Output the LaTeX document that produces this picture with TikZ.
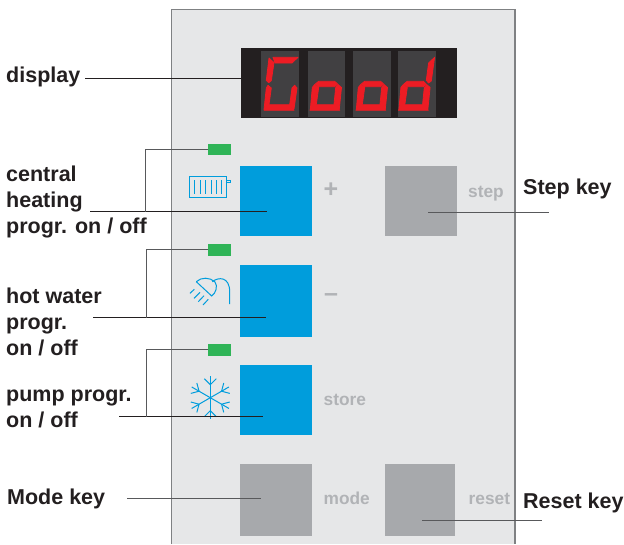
\documentclass[tikz,border=0pt]{standalone}
\usepackage{xcolor}
\usepackage{fontspec}
\setmainfont{Liberation Sans}
\usepackage{tikz}
\usetikzlibrary{positioning,calc}
\definecolor{ink}{HTML}{231F20}
\definecolor{wire}{HTML}{58595B}
\definecolor{panelbg}{HTML}{E6E7E8}
\definecolor{panelln}{HTML}{7F8183}
\definecolor{keyb}{HTML}{009DDC}
\definecolor{keyg}{HTML}{A7A9AC}
\definecolor{capt}{HTML}{B1B3B6}
\definecolor{ledg}{HTML}{2FB457}
\definecolor{segr}{HTML}{ED1C24}
\definecolor{cellbg}{HTML}{414042}
\newcommand{\sega}{(12,6.3) -- (37,6.3) -- (31,12) -- (14,12) -- cycle}
\newcommand{\segf}{(8,7) -- (13,11.7) -- (10.3,29.7) -- (7.7,31.7) -- (5.3,29.3) -- cycle}
\newcommand{\sege}{(7,34.3) -- (10.3,37) -- (8,53.7) -- (3,58.7) -- (5.3,37) -- cycle}
\newcommand{\segc}{(33.7,34.3) -- (36,37) -- (33,58) -- (28.7,53.7) -- (31,37) -- cycle}
\newcommand{\segd}{(3.2,59.3) -- (8,53.7) -- (28.7,53.7) -- (33,59.3) -- cycle}
\newcommand{\segg}{(8.6,33) -- (12,30.3) -- (28,30.3) -- (30.8,33) -- (28,35.7) -- (12,35.7) -- cycle}
\newcommand{\segb}{(39.3,6.3) -- (36,30) -- (33.3,32) -- (31,29.3) -- (33.3,12) -- cycle}
\newcommand{\sego}{(8,33.5) -- (12,36.5) -- (9.6,53.3) -- (3.6,58.7) -- (5.6,36.5) -- cycle}
\newcommand{\segp}{(31.3,33.5) -- (34.8,36.5) -- (32.6,58) -- (27.3,53.3) -- (29,36.5) -- cycle}
\tikzset{
  kbox/.style={rectangle,inner sep=0pt,anchor=north west,minimum width=72pt,minimum height=70pt},
  keyblue/.style={kbox,fill=keyb},
  keygrey/.style={kbox,fill=keyg},
  led/.style={rectangle,inner sep=0pt,anchor=north west,fill=ledg,minimum width=22.5pt,minimum height=11.5pt},
  cell/.style={rectangle,inner sep=0pt,anchor=north west,fill=cellbg,minimum width=38pt,minimum height=66pt},
  seg/.style={fill=segr,draw=segr,line width=0.8pt,line join=round},
  lbl/.style={anchor=west,align=left,inner sep=0pt,text=ink,font=\bfseries\fontsize{21.5}{25.8}\selectfont},
  capn/.style={anchor=west,inner sep=0pt,text=capt,font=\bfseries\fontsize{17.3}{20}\selectfont},
  signn/.style={inner sep=0pt,text=capt,font=\bfseries\fontsize{25}{25}\selectfont},
  ln/.style={draw=ink,line width=0.9pt},
  lng/.style={draw=wire,line width=1pt},
  icn/.style={draw=keyb,line width=1pt},
}
\begin{document}
\begin{tikzpicture}[x=1pt,y=-1pt]
  \useasboundingbox (0,0) rectangle (624,544);
  \fill[white] (0,0) rectangle (624,544);
  % panel
  \fill[panelbg] (171.5,9.5) rectangle (515,544);
  \draw[panelln,line width=1.2pt] (171.5,544) -- (171.5,9.5) -- (515,9.5) -- (515,544);
  % display
  \node[rectangle,inner sep=0pt,anchor=north west,fill=ink,minimum width=216pt,minimum height=70pt] (disp) at (241,48) {};
  \node[cell] (cell1) at (261,51) {};
  \node[cell,minimum width=37pt] (cell2) at (308,51) {};
  \node[cell] (cell3) at (353,51) {};
  \node[cell] (cell4) at (398,51) {};
  \begin{scope}[shift={(261,51)}]
    \foreach \s in {\sega,\segf,\sege,\segc,\segd} \path[seg] \s;
  \end{scope}
  \foreach \x in {306.7,352.7} {
    \begin{scope}[shift={(\x,51)}]
      \foreach \s in {\segg,\sego,\segp,\segd} \path[seg] \s;
    \end{scope}
  }
  \begin{scope}[shift={(395.3,51)}]
    \foreach \s in {\segb,\segg,\sego,\segp,\segd} \path[seg] \s;
  \end{scope}
  % keys
  \node[keyblue] (keyheat) at (240,166) {};
  \node[keyblue,minimum height=72pt] (keywater) at (240,265) {};
  \node[keyblue] (keypump) at (240,365) {};
  \node[keygrey,minimum height=72pt] (keymode) at (240,464) {};
  \node[keygrey] (keystep) at (385,166) {};
  \node[keygrey,minimum width=70pt,minimum height=72pt] (keyreset) at (385,464) {};
  \node[led] (ledheat) at (208,143.5) {};
  \node[led] (ledwater) at (208,244) {};
  \node[led] (ledpump) at (208,344) {};
  % radiator
  \draw[icn] (189.7,176.5) rectangle (226.7,197.3);
  \draw[icn] (226.7,180) rectangle (230.3,182.7);
  \foreach \x in {194.7,200,205.7,211,216.3,221.7} \draw[icn] (\x,180) -- (\x,194);
  % shower
  \draw[icn] (196.3,281.7) -- (211.7,296) .. controls (216,293) and (218,286) .. (215,282) .. controls (210,277) and (201,277) .. (196.3,281.7);
  \draw[icn] (212.3,281.7) .. controls (218,277) and (229.7,276) .. (229.7,292) -- (229.7,304);
  \draw[icn] (190,293.3) -- (194.3,289.3) (194,298.3) -- (200,292.3) (198.3,301.7) -- (204,295.7) (203,305) -- (208.3,299.3);
  % snowflake
  \foreach \a in {30,90,...,330} {
    \begin{scope}[shift={(210.3,397.7)},rotate=\a]
      \draw[icn] (0,0) -- (21.5,0);
      \draw[icn] (13,0) -- (19,6) (13,0) -- (19,-6);
    \end{scope}
  }
  % captions on panel
  \node[signn] (plus) at (331,190) {+};
  \node[signn] (minus) at (331,298) {--};
  \node[capn] (capstep) at (468,193.5) {step};
  \node[capn] (capstore) at (323.5,400) {store};
  \node[capn] (capmode) at (323.5,498.5) {mode};
  \node[capn] (capreset) at (468.5,499) {reset};
  % labels
  \node[lbl] (lbldisplay) at (6,77) {display};
  \node[lbl] (lblheat) at (6,202) {central\\heating\\progr. on / off};
  \node[lbl] (lblwater) at (6,322) {hot water\\progr.\\on / off};
  \node[lbl] (lblpump) at (6,409) {pump progr.\\on / off};
  \node[lbl] (lblmode) at (7,499) {Mode key};
  \node[lbl] (lblstep) at (523,189) {Step key};
  \node[lbl] (lblreset) at (523,503) {Reset key};
  % connectors
  \coordinate (dispfrom) at (85,78.5);
  \coordinate (heatfrom) at (90,211.5);
  \coordinate (heatto) at (267,211.5);
  \coordinate (heatjoin) at (145,211.5);
  \coordinate (waterfrom) at (93,317.5);
  \coordinate (waterto) at (266,317.5);
  \coordinate (waterjoin) at (146,317.5);
  \coordinate (pumpfrom) at (119,416.5);
  \coordinate (pumpto) at (263,416.5);
  \coordinate (pumpjoin) at (146,416.5);
  \coordinate (modefrom) at (127,498);
  \coordinate (modeto) at (261,498);
  \coordinate (stepfrom) at (428,212.5);
  \coordinate (stepto) at (549,212.5);
  \coordinate (resetfrom) at (422,520);
  \coordinate (resetto) at (542,520);
  \draw[ln] (dispfrom) -- (dispfrom -| disp.west);
  \draw[ln] (heatfrom) -- (heatto);
  \draw[ln] (waterfrom) -- (waterto);
  \draw[ln] (pumpfrom) -- (pumpto);
  \draw[lng] (ledheat.west) -| (heatjoin);
  \draw[lng] (ledwater.west) -| (waterjoin);
  \draw[lng] (ledpump.west) -| (pumpjoin);
  \draw[lng] (modefrom) -- (modeto);
  \draw[lng] (stepfrom) -- (stepto);
  \draw[lng] (resetfrom) -- (resetto);
\end{tikzpicture}
\end{document}
